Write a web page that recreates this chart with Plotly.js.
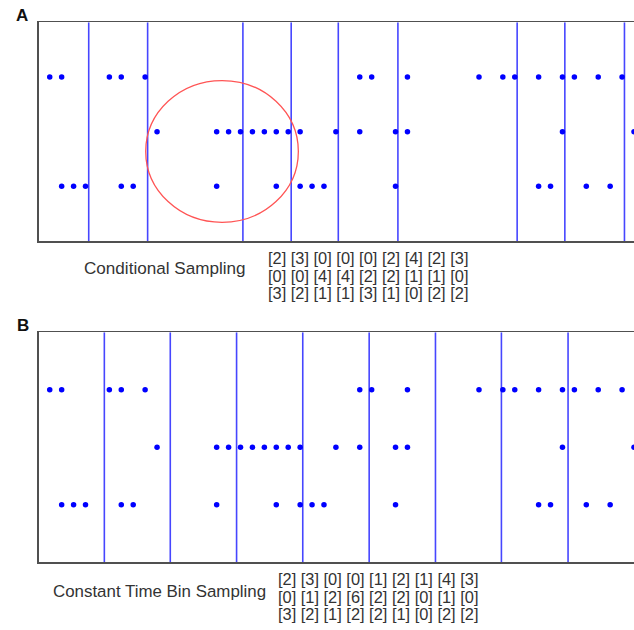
<!DOCTYPE html>
<html>
<head>
<meta charset="utf-8">
<script src="https://cdn.plot.ly/plotly-3.0.1.min.js"></script>
<style>html,body{margin:0;padding:0;background:#fff;}#chart{width:634px;height:630px;}</style>
</head>
<body>
<div id="chart"></div>
<script>
// Spike times for the three neurons (same spike trains in both panels)
var spikesRow1 = [0, 1, 5, 6, 8, 26, 27, 30, 36, 38, 39, 41, 43, 44, 46, 48];
var spikesRow2 = [9, 14, 15, 16, 17, 18, 19, 20, 21, 24, 26, 29, 30, 43, 49];
var spikesRow3 = [1, 2, 3, 6, 7, 14, 19, 21, 22, 23, 29, 41, 42, 45, 47];
var rowLevels = [3, 2, 1];

// Bin boundaries
var conditionalBounds = [3.27, 8.21, 16.2, 20.25, 24.2, 29.2, 39.2, 43.2, 48.2];
var constantBounds = [4.58, 10.11, 15.67, 21.22, 26.79, 32.35, 37.88, 43.47];

// Counts per bin
var conditionalCounts = [
  [2, 3, 0, 0, 0, 2, 4, 2, 3],
  [0, 0, 4, 4, 2, 2, 1, 1, 0],
  [3, 2, 1, 1, 3, 1, 0, 2, 2]
];
var constantCounts = [
  [2, 3, 0, 0, 1, 2, 1, 4, 3],
  [0, 1, 2, 6, 2, 2, 0, 1, 0],
  [3, 2, 1, 2, 2, 1, 0, 2, 2]
];
var panelLabels = ['A', 'B'];
var methodLabels = ['Conditional Sampling', 'Constant Time Bin Sampling'];

var spikeRows = [spikesRow1, spikesRow2, spikesRow3];
var W = 634, H = 630;
function py(p) { return 1 - p / H; }
function px(p) { return p / W; }

var traces = [];
function addPanel(axSuffix, bounds) {
  var xa = 'x' + axSuffix, ya = 'y' + axSuffix;
  var lx = [], ly = [];
  bounds.forEach(function (b) { lx.push(b, b, null); ly.push(0, 4, null); });
  traces.push({
    x: lx, y: ly, xaxis: xa, yaxis: ya, mode: 'lines', type: 'scatter',
    line: { color: 'rgb(70,70,255)', width: 1.6 }, hoverinfo: 'skip', showlegend: false
  });
  var dx = [], dy = [];
  spikeRows.forEach(function (row, i) {
    row.forEach(function (t) { dx.push(t); dy.push(rowLevels[i]); });
  });
  traces.push({
    x: dx, y: dy, xaxis: xa, yaxis: ya, mode: 'markers', type: 'scatter',
    marker: { color: '#0000ff', size: 5.5, symbol: 'circle' }, cliponaxis: true,
    hoverinfo: 'skip', showlegend: false
  });
}
addPanel('', conditionalBounds);
addPanel('2', constantBounds);

var axBase = {
  range: [-0.9, 49.0], showgrid: false, zeroline: false, showticklabels: false,
  ticks: '', showline: true, mirror: true, linecolor: '#505050', linewidth: 1.6, fixedrange: true
};
var yBase = {
  range: [0, 4], showgrid: false, zeroline: false, showticklabels: false,
  ticks: '', showline: true, mirror: true, linecolor: '#505050', linewidth: 1.6, fixedrange: true
};

var font = 'Liberation Sans, Arial, sans-serif';
var annotations = [];
function fmtRow(r) { return r.map(function (v) { return '[' + v + ']'; }).join(' '); }

// panel letters
annotations.push({ text: '<b>' + panelLabels[0] + '</b>', xref: 'paper', yref: 'paper', x: px(14), y: py(15.5),
  xanchor: 'left', yanchor: 'middle', showarrow: false, font: { family: font, size: 17, color: '#111' } });
annotations.push({ text: '<b>' + panelLabels[1] + '</b>', xref: 'paper', yref: 'paper', x: px(15), y: py(325),
  xanchor: 'left', yanchor: 'middle', showarrow: false, font: { family: font, size: 17, color: '#111' } });

// method labels
annotations.push({ text: methodLabels[0], xref: 'paper', yref: 'paper', x: px(82), y: py(268.5),
  xanchor: 'left', yanchor: 'middle', showarrow: false, font: { family: font, size: 17.1, color: '#333' } });
annotations.push({ text: methodLabels[1], xref: 'paper', yref: 'paper', x: px(51), y: py(591.5),
  xanchor: 'left', yanchor: 'middle', showarrow: false, font: { family: font, size: 16.9, color: '#333' } });

var condRowsY = [258.3, 275.8, 293.3];
var constRowsY = [579, 596.7, 614.4];
conditionalCounts.forEach(function (r, i) {
  annotations.push({ text: fmtRow(r), xref: 'paper', yref: 'paper', x: px(265.5), y: py(condRowsY[i]),
    xanchor: 'left', yanchor: 'middle', showarrow: false, font: { family: font, size: 16.4, color: '#333' } });
});
constantCounts.forEach(function (r, i) {
  annotations.push({ text: fmtRow(r), xref: 'paper', yref: 'paper', x: px(275.5), y: py(constRowsY[i]),
    xanchor: 'left', yanchor: 'middle', showarrow: false, font: { family: font, size: 16.4, color: '#333' } });
});

var layout = {
  width: W, height: H, margin: { l: 0, r: 0, t: 0, b: 0 },
  paper_bgcolor: '#fff', plot_bgcolor: '#fff', showlegend: false,
  xaxis: Object.assign({}, axBase, { domain: [px(39), 1], anchor: 'y' }),
  yaxis: Object.assign({}, yBase, { domain: [py(241), py(22.3)], anchor: 'x' }),
  xaxis2: Object.assign({}, axBase, { domain: [px(39), 1], anchor: 'y2' }),
  yaxis2: Object.assign({}, yBase, { domain: [py(562.3), py(332.3)], anchor: 'x2' }),
  shapes: [{
    type: 'circle', xref: 'x', yref: 'y', x0: 8.05, x1: 20.85, y0: 0.342, y1: 2.935,
    line: { color: 'rgb(255,85,85)', width: 1.3 }
  }],
  annotations: annotations
};

Plotly.newPlot('chart', traces, layout, { staticPlot: true, displayModeBar: false });
</script>
</body>
</html>
